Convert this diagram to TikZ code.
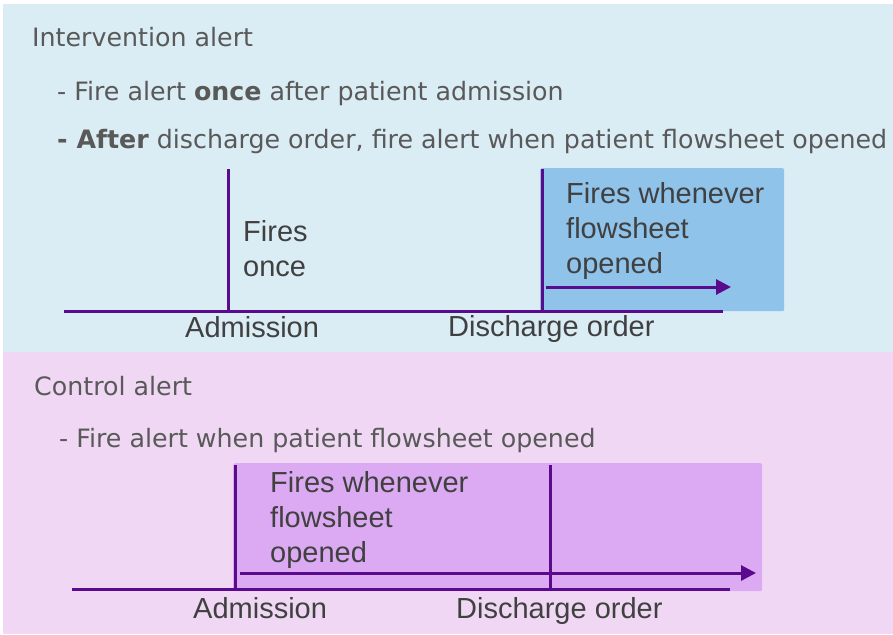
\documentclass[tikz,border=0pt]{standalone}
\usepackage{fontspec}
\setmainfont{Liberation Sans}
\newfontfamily\hdfont{DejaVu Sans}
\usetikzlibrary{positioning,arrows.meta}
\definecolor{panelblue}{RGB}{218,236,244}
\definecolor{panelpink}{RGB}{240,216,244}
\definecolor{boxblue}{RGB}{143,195,234}
\definecolor{boxpink}{RGB}{220,170,242}
\definecolor{lpurple}{RGB}{90,10,140}
\definecolor{hdgray}{RGB}{89,89,89}
\definecolor{lbgray}{RGB}{64,64,64}

\begin{document}
\begin{tikzpicture}[x=1pt, y=-1pt,
    header/.style={anchor=base west, inner sep=0pt, text=hdgray, font=\hdfont\fontsize{25.3}{30}\selectfont},
    tlabel/.style={anchor=base west, inner sep=0pt, text=lbgray, align=left, font=\fontsize{29}{35}\selectfont},
    winbox/.style={anchor=north west, inner sep=0pt, rounded corners=2pt},
    tline/.style={draw=lpurple, line width=3pt},
    tarrow/.style={tline, -{Triangle[length=15pt, width=15pt]}}]

        \useasboundingbox (0,0) rectangle (893,634);
        \fill[panelblue] (3,4) rectangle (893,352);
        \fill[panelpink] (3,352) rectangle (893,634);

        % headers
        \node[header] (intv) at (32,46) {Intervention alert};
        \node[header] (intv1) at (57,100) {- Fire alert \textbf{once} after patient admission};
        \node[header] (intv2) at (57,148) {\textbf{- After} discharge order, fire alert when patient flowsheet opened};
        \node[header] (ctrl) at (34,395) {Control alert};
        \node[header] (ctrl1) at (59,447) {- Fire alert when patient flowsheet opened};

        % intervention timeline
        \node[winbox, fill=boxblue, minimum width=244pt, minimum height=143pt] (win1) at (540,168) {};
        \node[tlabel] (once) at (243,276) {Fires\\once};
        \node[tlabel] (when1) at (566,273) {Fires whenever\\flowsheet\\opened};
        \node[tlabel] (adm1) at (185,337) {Admission};
        \node[tlabel] (dis1) at (448,336) {Discharge order};

        \coordinate (t1s) at (64,311);
        \coordinate (t1e) at (723,311);
        \coordinate (a1b) at (228,311);
        \coordinate (a1t) at (228,169);
        \coordinate (d1b) at (542,311);
        \coordinate (d1t) at (542,169);
        \coordinate (r1s) at (546,287);
        \coordinate (r1e) at (731,287);

        \draw[tline] (t1s) -- (t1e);
        \draw[tline] (a1b) -- (a1t);
        \draw[tline] (d1b) -- (d1t);
        \draw[tarrow] (r1s) -- (r1e);

        % control timeline
        \node[winbox, fill=boxpink, minimum width=529pt, minimum height=128pt] (win2) at (233,463) {};
        \node[tlabel] (when2) at (270,562) {Fires whenever\\flowsheet\\opened};
        \node[tlabel] (adm2) at (193,618) {Admission};
        \node[tlabel] (dis2) at (456,618) {Discharge order};

        \coordinate (t2s) at (72,589);
        \coordinate (t2e) at (730,589);
        \coordinate (a2b) at (235,589);
        \coordinate (a2t) at (235,465);
        \coordinate (d2b) at (550,589);
        \coordinate (d2t) at (550,465);
        \coordinate (r2s) at (240,573);
        \coordinate (r2e) at (756,573);

        \draw[tline] (t2s) -- (t2e);
        \draw[tline] (a2b) -- (a2t);
        \draw[tline] (d2b) -- (d2t);
        \draw[tarrow] (r2s) -- (r2e);

    \end{tikzpicture}
\end{document}
